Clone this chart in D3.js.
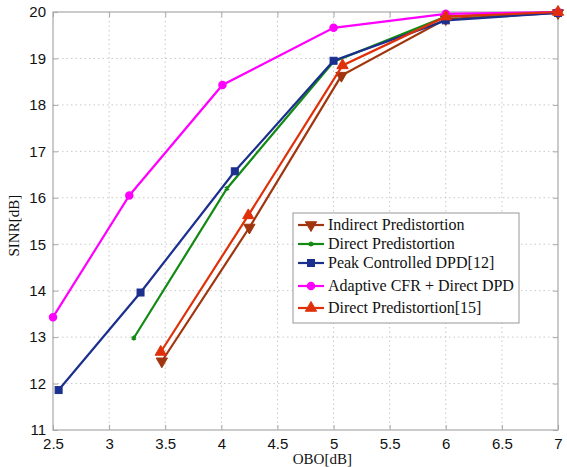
<!DOCTYPE html>
<html>
<head>
<meta charset="utf-8">
<script src="https://cdn.jsdelivr.net/npm/d3@7"></script>
<style>
  body { margin: 0; background: #fff; }
  .tick text { font-family: "Liberation Sans", Arial, sans-serif; font-size: 15px; fill: #111; }
  .grid line { stroke: #c8c8c8; stroke-dasharray: 1.5 3; }
  .serif { font-family: "Liberation Serif", "Times New Roman", serif; fill: #111; }
</style>
</head>
<body>
<div id="chart"></div>
<script>
// Data
const xTicks = [2.5, 3, 3.5, 4, 4.5, 5, 5.5, 6, 6.5, 7];
const yTicks = [11, 12, 13, 14, 15, 16, 17, 18, 19, 20];

const indirectX = [3.47, 4.25, 5.07, 6, 7];
const indirectY = [12.48, 15.36, 18.63, 19.85, 19.98];

const directX = [3.22, 4.05, 5, 6, 7];
const directY = [12.98, 16.2, 18.93, 19.9, 20];

const peakX = [2.55, 3.28, 4.12, 5, 6, 7];
const peakY = [11.86, 13.96, 16.57, 18.95, 19.82, 19.98];

const adaptiveX = [2.5, 3.18, 4.01, 5, 6, 7];
const adaptiveY = [13.43, 16.05, 18.43, 19.66, 19.96, 20];

const direct15X = [3.46, 4.24, 5.08, 6, 7];
const direct15Y = [12.68, 15.62, 18.85, 19.9, 20];

const seriesNames = [
  "Indirect Predistortion",
  "Direct Predistortion",
  "Peak Controlled DPD[12]",
  "Adaptive CFR + Direct DPD",
  "Direct Predistortion[15]"
];

const series = [
  { name: seriesNames[0], xs: indirectX, ys: indirectY, color: "#a0360f", marker: "down" },
  { name: seriesNames[1], xs: directX, ys: directY, color: "#138a13", marker: "star" },
  { name: seriesNames[2], xs: peakX, ys: peakY, color: "#1b2f8e", marker: "square" },
  { name: seriesNames[3], xs: adaptiveX, ys: adaptiveY, color: "#ff00ff", marker: "circle" },
  { name: seriesNames[4], xs: direct15X, ys: direct15Y, color: "#e0300a", marker: "up" }
];

const width = 567, height = 467;
const margin = { top: 12, right: 9, bottom: 37, left: 53 };
const innerW = width - margin.left - margin.right;
const innerH = height - margin.top - margin.bottom;

const svg = d3.select("#chart").append("svg")
  .attr("width", width)
  .attr("height", height);

const chart = svg.append("g")
  .attr("transform", `translate(${margin.left},${margin.top})`);

const xScale = d3.scaleLinear().domain([2.5, 7]).range([0, innerW]);
const yScale = d3.scaleLinear().domain([11, 20]).range([innerH, 0]);

// grid
chart.append("g").attr("class", "grid")
  .selectAll("line.v").data(xTicks.slice(1, -1)).join("line")
  .attr("x1", d => xScale(d)).attr("x2", d => xScale(d))
  .attr("y1", 0).attr("y2", innerH);
chart.append("g").attr("class", "grid")
  .selectAll("line.h").data(yTicks.slice(1, -1)).join("line")
  .attr("x1", 0).attr("x2", innerW)
  .attr("y1", d => yScale(d)).attr("y2", d => yScale(d));

// frame
chart.append("rect")
  .attr("width", innerW).attr("height", innerH)
  .attr("fill", "none").attr("stroke", "#a8a8a8").attr("stroke-width", 1.2);

// axes with inward ticks
const xAxis = d3.axisBottom(xScale).tickValues(xTicks).tickSize(-5).tickPadding(8)
  .tickFormat(d3.format("~g"));
const yAxis = d3.axisLeft(yScale).tickValues(yTicks).tickSize(-5).tickPadding(7)
  .tickFormat(d3.format("d"));

const xAxisG = chart.append("g").attr("transform", `translate(0,${innerH})`).call(xAxis);
const yAxisG = chart.append("g").call(yAxis);
[xAxisG, yAxisG].forEach(g => {
  g.select(".domain").remove();
  g.selectAll(".tick line").attr("stroke", "#a8a8a8");
});
chart.append("g").attr("transform", `translate(${innerW},0)`)
  .call(d3.axisRight(yScale).tickValues(yTicks).tickSize(-5).tickFormat(""))
  .call(g => { g.select(".domain").remove(); g.selectAll(".tick line").attr("stroke", "#a8a8a8"); });
chart.append("g")
  .call(d3.axisTop(xScale).tickValues(xTicks).tickSize(-5).tickFormat(""))
  .call(g => { g.select(".domain").remove(); g.selectAll(".tick line").attr("stroke", "#a8a8a8"); });

// axis titles
svg.append("text").attr("class", "serif")
  .attr("x", margin.left + xScale(4.9)).attr("y", height - 3)
  .attr("text-anchor", "middle")
  .style("font-size", "15px")
  .text("OBO[dB]");
svg.append("text").attr("class", "serif")
  .attr("transform", `translate(19,${margin.top + yScale(15.4)}) rotate(-90)`)
  .attr("text-anchor", "middle")
  .style("font-size", "15px")
  .text("SINR[dB]");

// marker drawing
function drawMarker(g, type, color, cx, cy) {
  if (type === "down") {
    g.append("path").attr("d", d3.symbol(d3.symbolTriangle, 55)())
      .attr("transform", `translate(${cx},${cy}) rotate(180)`)
      .attr("fill", color).attr("stroke", color);
  } else if (type === "up") {
    g.append("path").attr("d", d3.symbol(d3.symbolTriangle, 55)())
      .attr("transform", `translate(${cx},${cy})`)
      .attr("fill", color).attr("stroke", color);
  } else if (type === "square") {
    g.append("rect").attr("x", cx - 3.5).attr("y", cy - 3.5)
      .attr("width", 7).attr("height", 7)
      .attr("fill", color).attr("stroke", color);
  } else if (type === "circle") {
    g.append("circle").attr("cx", cx).attr("cy", cy).attr("r", 3.5)
      .attr("fill", color).attr("stroke", color).attr("stroke-width", 1.5);
  } else if (type === "star") {
    g.append("path").attr("d", d3.symbol(d3.symbolAsterisk || d3.symbolCross, 18)())
      .attr("transform", `translate(${cx},${cy})`)
      .attr("fill", color).attr("stroke", color).attr("stroke-width", 1.5);
  }
}

const line = d3.line().x(d => xScale(d[0])).y(d => yScale(d[1]));

series.forEach(s => {
  const pts = s.xs.map((x, i) => [x, s.ys[i]]);
  const g = chart.append("g");
  g.append("path").datum(pts)
    .attr("d", line)
    .attr("fill", "none").attr("stroke", s.color).attr("stroke-width", 2.2);
  pts.forEach(p => drawMarker(g, s.marker, s.color, xScale(p[0]), yScale(p[1])));
});

// legend
const legend = svg.append("g").attr("transform", "translate(293,213)");
legend.append("rect")
  .attr("width", 226).attr("height", 110)
  .attr("fill", "#fff").attr("stroke", "#a8a8a8").attr("stroke-width", 1.2);
const rowY = [12, 31, 50, 73, 95];
series.forEach((s, i) => {
  const row = legend.append("g").attr("transform", `translate(0,${rowY[i]})`);
  row.append("line").attr("x1", 5).attr("x2", 31).attr("y1", 0).attr("y2", 0)
    .attr("stroke", s.color).attr("stroke-width", 2.2);
  drawMarker(row, s.marker, s.color, 18, 0);
  row.append("text").attr("class", "serif").attr("x", 35).attr("y", 5)
    .style("font-size", "16px")
    .text(s.name);
});
</script>
</body>
</html>
